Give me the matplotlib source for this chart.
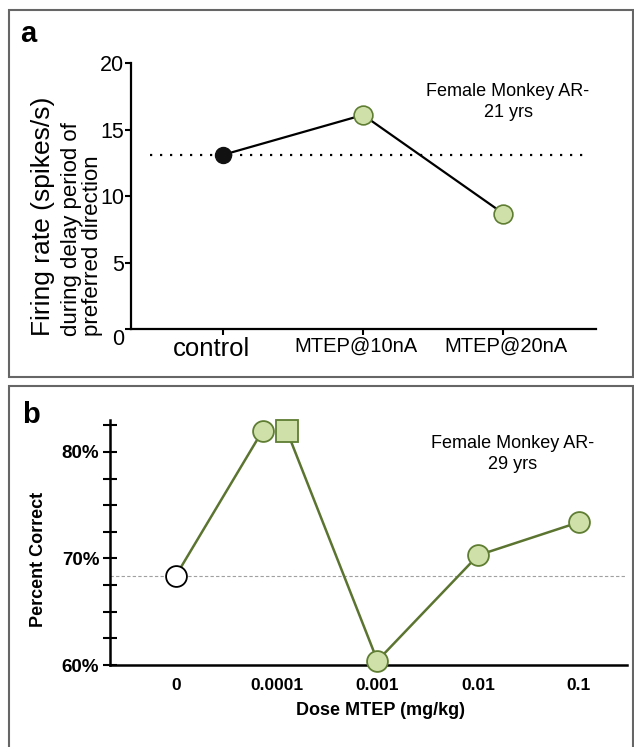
import matplotlib
matplotlib.use('Agg')
import matplotlib.pyplot as plt
from matplotlib.patches import Rectangle
from matplotlib.transforms import ScaledTranslation

plt.rcParams['font.family'] = ['Liberation Sans', 'DejaVu Sans']

# panel a: single neuron firing rate
conditions = ['control', 'MTEP@10nA', 'MTEP@20nA']
firing_rate = [13.1, 16.1, 8.7]
control_rate = 13.1
rate_ticks = [0, 5, 10, 15, 20]

# panel b: behaviour vs dose
doses = ['0', '0.0001', '0.001', '0.01', '0.1']
dose_index = [0, 1, 1, 2, 3, 4]
percent_correct = [68.4, 82.0, 82.0, 60.4, 70.3, 73.4]
vehicle_pct = 68.4
pct_ticks = [60, 70, 80]
pct_labels = ['60%', '70%', '80%']
pct_minor = [62.5, 65, 67.5, 72.5, 75, 77.5, 82.5]

# styling
dose_offset = [0, -0.14, 0.10, 0, 0, 0]
point_marker = ['o', 'o', 's', 'o', 'o', 'o']
green_face = '#cfe0a8'
green_edge = '#5f7d33'
olive = '#5b7430'

W, H = 634, 747
fig = plt.figure(figsize=(W / 100, H / 100), dpi=100)


def px_rect(l, t, r, b):
    return [l / W, 1 - b / H, (r - l) / W, (b - t) / H]


def fx(x):
    return x / W


def fy(y):
    return 1 - y / H


# panel frames
fig.patches.append(Rectangle((fx(9), fy(377)), 624 / W, 367 / H, transform=fig.transFigure,
                             fill=False, ec='#666666', lw=1.5))
fig.patches.append(Rectangle((fx(9), fy(770)), 624 / W, 384 / H, transform=fig.transFigure,
                             fill=False, ec='#666666', lw=1.5))

# ---------------- panel a ----------------
axA = fig.add_axes(px_rect(130.5, 63, 596.4, 329.5))
xa = list(range(len(conditions)))
axA.hlines(control_rate, -0.52, 2.62, colors='black', linestyles=(0, (1, 3.5)), lw=1.6, zorder=1)
axA.plot(xa, firing_rate, color='black', lw=1.6, zorder=2)
axA.plot(xa[0], firing_rate[0], 'o', ms=11.5, mfc='#111111', mec='#111111', zorder=3)
axA.plot(xa[1:], firing_rate[1:], 'o', ms=13.5, mfc=green_face, mec=green_edge, mew=1.2, zorder=3)
axA.set_xlim(-0.657, 2.663)
axA.set_ylim(0, 20)
for s in ['top', 'right']:
    axA.spines[s].set_visible(False)
for s in ['left', 'bottom']:
    axA.spines[s].set_linewidth(1.6)
axA.set_yticks(rate_ticks)
axA.set_yticklabels([str(v) for v in rate_ticks], fontsize=15.5)
axA.tick_params(axis='y', length=4, width=1.5, pad=0.5)
axA.set_xticks(xa)
axA.tick_params(axis='x', length=4.3, width=1.5, pad=1)
labels = axA.set_xticklabels(conditions)
for lbl, fs, dx in zip(labels, [18.5, 14.5, 14.5], [-11, -7, 3]):
    lbl.set_fontsize(fs)
    lbl.set_transform(lbl.get_transform() + ScaledTranslation(dx / 100, 0, fig.dpi_scale_trans))
axA.get_yticklabels()[0].set_va('top')

fig.text(fx(43), fy(336), 'Firing rate (spikes/s)', rotation=90, rotation_mode='anchor',
         ha='left', va='center', fontsize=19)
fig.text(fx(72), fy(336), 'during delay period of', rotation=90, rotation_mode='anchor',
         ha='left', va='center', fontsize=16)
fig.text(fx(92), fy(336), 'preferred direction', rotation=90, rotation_mode='anchor',
         ha='left', va='center', fontsize=16)
fig.text(fx(508), fy(117), 'Female Monkey AR-\n21 yrs', ha='center', va='baseline',
         fontsize=13, linespacing=1.3)
fig.text(fx(20), fy(41.7), 'a', fontsize=21, fontweight='bold', va='baseline')

# ---------------- panel b ----------------
axB = fig.add_axes(px_rect(110, 420, 627, 665))
xb = [i + o for i, o in zip(dose_index, dose_offset)]
axB.axhline(vehicle_pct, color='#a0a0a0', lw=0.8, ls=(0, (3, 2)), zorder=1)
axB.plot(xb[:2], percent_correct[:2], color=olive, lw=1.8, zorder=2)
axB.plot(xb[2:], percent_correct[2:], color=olive, lw=1.8, zorder=2)
for i, (x, y, m) in enumerate(zip(xb, percent_correct, point_marker)):
    if i == 0:
        fc, ec = 'white', 'black'
    else:
        fc, ec = green_face, green_edge
    axB.plot(x, y, m, ms=15.5 if m == 's' else 15, mfc=fc, mec=ec, mew=1.3,
             zorder=3, clip_on=False)
axB.set_xlim(-0.655, 4.478)
axB.set_ylim(60, 83.0)
for s in ['top', 'right']:
    axB.spines[s].set_visible(False)
for s in ['left', 'bottom']:
    axB.spines[s].set_linewidth(1.8)
axB.set_yticks(pct_ticks)
axB.set_yticklabels(pct_labels, fontsize=13.5, fontweight='bold')
axB.set_yticks(pct_minor, minor=True)
axB.tick_params(axis='y', which='both', direction='inout', length=9.4, width=1.5, pad=3)
axB.set_xticks(range(len(doses)))
axB.set_xticklabels(doses, fontsize=12.5, fontweight='bold')
axB.tick_params(axis='x', length=0, pad=9.4)

fig.text(fx(380), fy(715), 'Dose MTEP (mg/kg)', ha='center', va='baseline',
         fontsize=13, fontweight='bold')
fig.text(fx(38.3), fy(559), 'Percent Correct', rotation=90, ha='center', va='center',
         fontsize=13, fontweight='bold')
fig.text(fx(513), fy(469), 'Female Monkey AR-\n29 yrs', ha='center', va='baseline',
         fontsize=13, linespacing=1.3)
fig.text(fx(21.7), fy(423.3), 'b', fontsize=21, fontweight='bold', va='baseline')

fig.savefig('out.png', dpi=100)
